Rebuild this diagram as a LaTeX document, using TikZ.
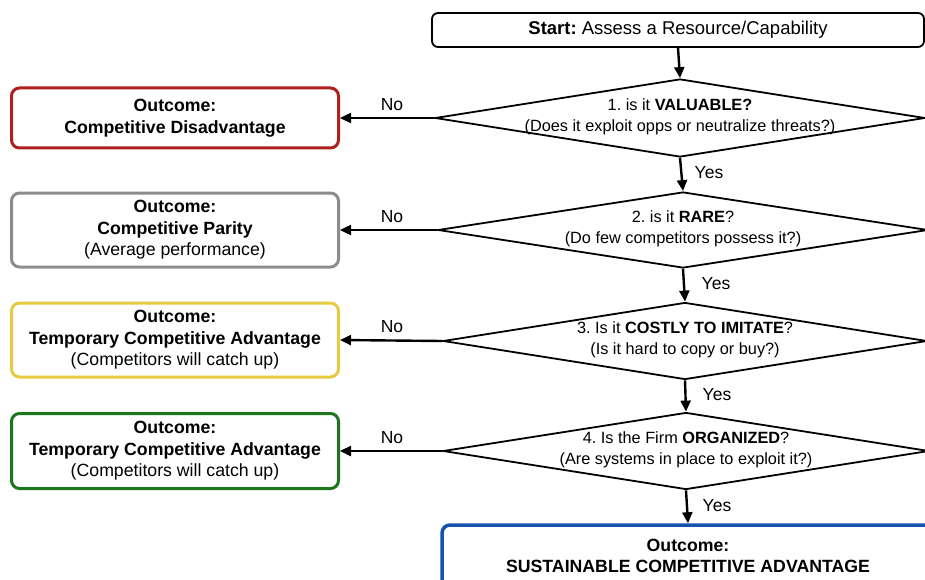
\documentclass[tikz,border=0pt]{standalone}
\usepackage{fontspec}
\setmainfont{Liberation Sans}
\usetikzlibrary{shapes.geometric,arrows.meta}
\frenchspacing

\definecolor{outred}{RGB}{176,30,30}
\definecolor{outgray}{RGB}{140,140,140}
\definecolor{outyellow}{RGB}{232,202,64}
\definecolor{outgreen}{RGB}{28,118,28}
\definecolor{outblue}{RGB}{22,82,176}

\begin{document}
\begin{tikzpicture}[x=1pt,y=-1pt,
  startbox/.style={draw=black, rounded corners=6pt, line width=1.8pt, fill=white,
    minimum width=492pt, minimum height=34pt, inner sep=0pt,
    font=\fontsize{18.5}{22}\selectfont},
  decision/.style={draw=black, shape=diamond, line width=1.8pt, inner sep=0pt},
  question/.style={align=center, inner sep=0pt,
    font=\fontsize{16.3}{21}\selectfont},
  outcome/.style={draw, rounded corners=8pt, line width=3pt, fill=white,
    align=center, inner sep=0pt, minimum width=327pt,
    font=\fontsize{17.7}{21.5}\selectfont},
  flow/.style={line width=2.4pt, -{Triangle[length=11pt,width=10pt]}},
  answer/.style={inner sep=0pt, font=\fontsize{17.5}{20}\selectfont}
]
\path[use as bounding box] (0,0) rectangle (925,580);
\clip (0,0) rectangle (925,580);
\fill[white] (0,0) rectangle (925,580);

% start of the assessment
\node[startbox] (start) at (678,30) {\textbf{Start:} Assess a Resource/Capability};

% the four VRIO questions
\node[decision, minimum width=490pt, minimum height=78pt] (d1) at (680,118) {};
\node[question] (q1) at (680,117) {1. is it \textbf{VALUABLE?}\\(Does it exploit opps or neutralize threats?)};

\node[decision, minimum width=490pt, minimum height=76pt] (d2) at (683,230) {};
\node[question] (q2) at (683,229) {2. is it \textbf{RARE}?\\(Do few competitors possess it?)};

\node[decision, minimum width=484pt, minimum height=77pt] (d3) at (685,341) {};
\node[question] (q3) at (685,340) {3. Is it \textbf{COSTLY TO IMITATE}?\\(Is it hard to copy or buy?)};

\node[decision, minimum width=486pt, minimum height=77pt] (d4) at (686,451) {};
\node[question] (q4) at (686,450) {4. Is the Firm \textbf{ORGANIZED}?\\(Are systems in place to exploit it?)};

% outcomes
\node[outcome, draw=outred, minimum height=60pt] (o1) at (175,118)
  {\textbf{Outcome:}\\\textbf{Competitive Disadvantage}};
\node[outcome, draw=outgray, minimum height=74pt] (o2) at (175,230)
  {\textbf{Outcome:}\\\textbf{Competitive Parity}\\(Average performance)};
\node[outcome, draw=outyellow, minimum height=74pt] (o3) at (175,340)
  {\textbf{Outcome:}\\\textbf{Temporary Competitive Advantage}\\(Competitors will catch up)};
\node[outcome, draw=outgreen, minimum height=75pt] (o4) at (175,451)
  {\textbf{Outcome:}\\\textbf{Temporary Competitive Advantage}\\(Competitors will catch up)};
\node[outcome, draw=outblue, line width=3.5pt, minimum width=492pt, minimum height=62pt] (o5) at (688,556)
  {\textbf{Outcome:}\\\textbf{SUSTAINABLE COMPETITIVE ADVANTAGE}};

% yes path
\draw[flow] (start.south) -- (d1.north);
\draw[flow] (d1.south) -- (d2.north);
\draw[flow] (d2.south) -- (d3.north);
\draw[flow] (d3.south) -- (d4.north);
\draw[flow] (d4.south) -- (o5.north);

% no branches
\draw[flow] (d1.west) -- (o1.east);
\draw[flow] (d2.west) -- (o2.east);
\draw[flow] (d3.west) -- (o3.east);
\draw[flow] (d4.west) -- (o4.east);

% branch labels
\node[answer] (no1) at (392,105) {No};
\node[answer] (no2) at (392,217) {No};
\node[answer] (no3) at (392,327) {No};
\node[answer] (no4) at (392,438) {No};
\node[answer] (yes1) at (709,173) {Yes};
\node[answer] (yes2) at (716,284) {Yes};
\node[answer] (yes3) at (717,395) {Yes};
\node[answer] (yes4) at (717,506) {Yes};
\end{tikzpicture}
\end{document}
